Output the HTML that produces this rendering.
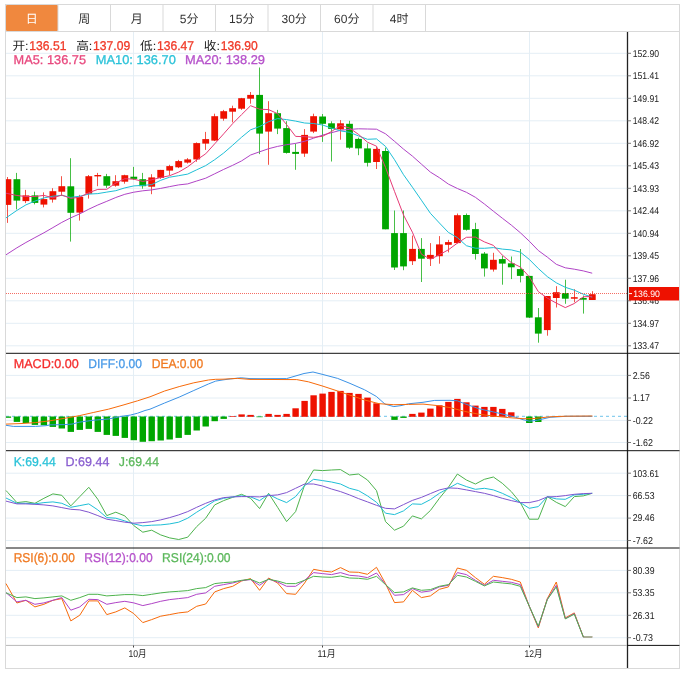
<!DOCTYPE html>
<html lang="zh"><head><meta charset="utf-8"><title>K线图</title>
<style>html,body{margin:0;padding:0;background:#fff}svg{display:block;text-rendering:geometricPrecision}</style></head>
<body>
<svg width="685" height="677" viewBox="0 0 685 677" font-family="'Liberation Sans','Noto Sans CJK SC',sans-serif">
<rect x="0" y="0" width="685" height="677" fill="#fff"/>
<rect x="5.5" y="4.5" width="674" height="664" fill="none" stroke="#d9d9d9" stroke-width="1"/>
<line x1="5.5" y1="31.5" x2="680" y2="31.5" stroke="#d9d9d9"/>
<rect x="6" y="5" width="52" height="26" rx="1" fill="#f0883e"/>
<line x1="58.0" y1="5" x2="58.0" y2="31" stroke="#d9d9d9"/>
<text x="31.8" y="23" font-size="12" fill="#fff" text-anchor="middle">日</text>
<line x1="110.5" y1="5" x2="110.5" y2="31" stroke="#d9d9d9"/>
<text x="84.2" y="23" font-size="12" fill="#333" text-anchor="middle">周</text>
<line x1="163.0" y1="5" x2="163.0" y2="31" stroke="#d9d9d9"/>
<text x="136.8" y="23" font-size="12" fill="#333" text-anchor="middle">月</text>
<line x1="215.5" y1="5" x2="215.5" y2="31" stroke="#d9d9d9"/>
<text x="189.2" y="23" font-size="12" fill="#333" text-anchor="middle">5分</text>
<line x1="268.0" y1="5" x2="268.0" y2="31" stroke="#d9d9d9"/>
<text x="241.8" y="23" font-size="12" fill="#333" text-anchor="middle">15分</text>
<line x1="320.5" y1="5" x2="320.5" y2="31" stroke="#d9d9d9"/>
<text x="294.2" y="23" font-size="12" fill="#333" text-anchor="middle">30分</text>
<line x1="373.0" y1="5" x2="373.0" y2="31" stroke="#d9d9d9"/>
<text x="346.8" y="23" font-size="12" fill="#333" text-anchor="middle">60分</text>
<line x1="425.5" y1="5" x2="425.5" y2="31" stroke="#d9d9d9"/>
<text x="399.2" y="23" font-size="12" fill="#333" text-anchor="middle">4时</text>
<line x1="6" y1="53.3" x2="627" y2="53.3" stroke="#e4eef5" stroke-width="1"/>
<line x1="6" y1="75.8" x2="627" y2="75.8" stroke="#e4eef5" stroke-width="1"/>
<line x1="6" y1="98.3" x2="627" y2="98.3" stroke="#e4eef5" stroke-width="1"/>
<line x1="6" y1="120.8" x2="627" y2="120.8" stroke="#e4eef5" stroke-width="1"/>
<line x1="6" y1="143.3" x2="627" y2="143.3" stroke="#e4eef5" stroke-width="1"/>
<line x1="6" y1="165.8" x2="627" y2="165.8" stroke="#e4eef5" stroke-width="1"/>
<line x1="6" y1="188.3" x2="627" y2="188.3" stroke="#e4eef5" stroke-width="1"/>
<line x1="6" y1="210.8" x2="627" y2="210.8" stroke="#e4eef5" stroke-width="1"/>
<line x1="6" y1="233.3" x2="627" y2="233.3" stroke="#e4eef5" stroke-width="1"/>
<line x1="6" y1="255.8" x2="627" y2="255.8" stroke="#e4eef5" stroke-width="1"/>
<line x1="6" y1="278.3" x2="627" y2="278.3" stroke="#e4eef5" stroke-width="1"/>
<line x1="6" y1="300.8" x2="627" y2="300.8" stroke="#e4eef5" stroke-width="1"/>
<line x1="6" y1="323.3" x2="627" y2="323.3" stroke="#e4eef5" stroke-width="1"/>
<line x1="6" y1="345.8" x2="627" y2="345.8" stroke="#e4eef5" stroke-width="1"/>
<line x1="6" y1="375.4" x2="627" y2="375.4" stroke="#e4eef5" stroke-width="1"/>
<line x1="6" y1="398.0" x2="627" y2="398.0" stroke="#e4eef5" stroke-width="1"/>
<line x1="6" y1="420.4" x2="627" y2="420.4" stroke="#e4eef5" stroke-width="1"/>
<line x1="6" y1="442.5" x2="627" y2="442.5" stroke="#e4eef5" stroke-width="1"/>
<line x1="6" y1="473.2" x2="627" y2="473.2" stroke="#e4eef5" stroke-width="1"/>
<line x1="6" y1="495.6" x2="627" y2="495.6" stroke="#e4eef5" stroke-width="1"/>
<line x1="6" y1="518.1" x2="627" y2="518.1" stroke="#e4eef5" stroke-width="1"/>
<line x1="6" y1="540.5" x2="627" y2="540.5" stroke="#e4eef5" stroke-width="1"/>
<line x1="6" y1="570.4" x2="627" y2="570.4" stroke="#e4eef5" stroke-width="1"/>
<line x1="6" y1="592.8" x2="627" y2="592.8" stroke="#e4eef5" stroke-width="1"/>
<line x1="6" y1="615.3" x2="627" y2="615.3" stroke="#e4eef5" stroke-width="1"/>
<line x1="6" y1="637.7" x2="627" y2="637.7" stroke="#e4eef5" stroke-width="1"/>
<line x1="133.5" y1="32" x2="133.5" y2="645" stroke="#e4eef5" stroke-width="1"/>
<line x1="322.5" y1="32" x2="322.5" y2="645" stroke="#e4eef5" stroke-width="1"/>
<line x1="529.5" y1="32" x2="529.5" y2="645" stroke="#e4eef5" stroke-width="1"/>
<text x="12.4" y="50.2" font-size="12" fill="#222" textLength="16.2" lengthAdjust="spacingAndGlyphs" text-anchor="start">开:</text>
<text x="29.3" y="50.4" font-size="12.8" fill="#f03a28" stroke="#f03a28" stroke-width="0.3" textLength="37.1" lengthAdjust="spacingAndGlyphs" text-anchor="start">136.51</text>
<text x="76.2" y="50.2" font-size="12" fill="#222" textLength="16.2" lengthAdjust="spacingAndGlyphs" text-anchor="start">高:</text>
<text x="93.1" y="50.4" font-size="12.8" fill="#f03a28" stroke="#f03a28" stroke-width="0.3" textLength="37.1" lengthAdjust="spacingAndGlyphs" text-anchor="start">137.09</text>
<text x="140.0" y="50.2" font-size="12" fill="#222" textLength="16.2" lengthAdjust="spacingAndGlyphs" text-anchor="start">低:</text>
<text x="156.9" y="50.4" font-size="12.8" fill="#f03a28" stroke="#f03a28" stroke-width="0.3" textLength="37.1" lengthAdjust="spacingAndGlyphs" text-anchor="start">136.47</text>
<text x="203.8" y="50.2" font-size="12" fill="#222" textLength="16.2" lengthAdjust="spacingAndGlyphs" text-anchor="start">收:</text>
<text x="220.7" y="50.4" font-size="12.8" fill="#f03a28" stroke="#f03a28" stroke-width="0.3" textLength="37.1" lengthAdjust="spacingAndGlyphs" text-anchor="start">136.90</text>
<text x="13.6" y="64.3" font-size="12.8" fill="#e8487e" stroke="#e8487e" stroke-width="0.3" textLength="72.4" lengthAdjust="spacingAndGlyphs" text-anchor="start">MA5: 136.75</text>
<text x="95.8" y="64.3" font-size="12.8" fill="#2cc3d9" stroke="#2cc3d9" stroke-width="0.3" textLength="80.0" lengthAdjust="spacingAndGlyphs" text-anchor="start">MA10: 136.70</text>
<text x="185.0" y="64.3" font-size="12.8" fill="#b653cb" stroke="#b653cb" stroke-width="0.3" textLength="80.0" lengthAdjust="spacingAndGlyphs" text-anchor="start">MA20: 138.29</text>
<line x1="7.5" y1="177.0" x2="7.5" y2="222.9" stroke="#ee1100" stroke-width="1" stroke-opacity="0.72"/>
<rect x="6.0" y="179.2" width="5.3" height="25.7" fill="#ee1100"/>
<line x1="16.5" y1="172.9" x2="16.5" y2="209.4" stroke="#00a600" stroke-width="1" stroke-opacity="0.72"/>
<rect x="13.5" y="179.2" width="6.8" height="21.4" fill="#00a600"/>
<line x1="25.5" y1="189.9" x2="25.5" y2="203.1" stroke="#ee1100" stroke-width="1" stroke-opacity="0.72"/>
<rect x="22.5" y="195.4" width="6.8" height="5.7" fill="#ee1100"/>
<line x1="34.5" y1="191.7" x2="34.5" y2="204.4" stroke="#00a600" stroke-width="1" stroke-opacity="0.72"/>
<rect x="31.5" y="195.4" width="6.8" height="7.5" fill="#00a600"/>
<line x1="43.5" y1="192.4" x2="43.5" y2="207.4" stroke="#ee1100" stroke-width="1" stroke-opacity="0.72"/>
<rect x="40.5" y="199.1" width="6.8" height="5.5" fill="#ee1100"/>
<line x1="52.5" y1="188.2" x2="52.5" y2="202.6" stroke="#ee1100" stroke-width="1" stroke-opacity="0.72"/>
<rect x="49.5" y="191.2" width="6.8" height="8.4" fill="#ee1100"/>
<line x1="61.5" y1="176.2" x2="61.5" y2="196.0" stroke="#ee1100" stroke-width="1" stroke-opacity="0.72"/>
<rect x="58.4" y="186.2" width="6.8" height="5.5" fill="#ee1100"/>
<line x1="70.5" y1="158.2" x2="70.5" y2="241.6" stroke="#00a600" stroke-width="1" stroke-opacity="0.72"/>
<rect x="67.4" y="186.3" width="6.8" height="26.5" fill="#00a600"/>
<line x1="79.5" y1="194.9" x2="79.5" y2="220.6" stroke="#ee1100" stroke-width="1" stroke-opacity="0.72"/>
<rect x="76.4" y="196.9" width="6.8" height="15.7" fill="#ee1100"/>
<line x1="88.5" y1="175.0" x2="88.5" y2="198.6" stroke="#ee1100" stroke-width="1" stroke-opacity="0.72"/>
<rect x="85.4" y="176.2" width="6.8" height="17.5" fill="#ee1100"/>
<line x1="97.5" y1="172.9" x2="97.5" y2="186.2" stroke="#ee1100" stroke-width="1" stroke-opacity="0.72"/>
<rect x="94.4" y="175.0" width="6.8" height="1.4" fill="#ee1100"/>
<line x1="106.5" y1="173.9" x2="106.5" y2="187.9" stroke="#00a600" stroke-width="1" stroke-opacity="0.72"/>
<rect x="103.4" y="176.2" width="6.8" height="9.5" fill="#00a600"/>
<line x1="115.5" y1="175.2" x2="115.5" y2="186.7" stroke="#ee1100" stroke-width="1" stroke-opacity="0.72"/>
<rect x="112.4" y="181.2" width="6.8" height="4.5" fill="#ee1100"/>
<line x1="124.5" y1="174.7" x2="124.5" y2="183.7" stroke="#ee1100" stroke-width="1" stroke-opacity="0.72"/>
<rect x="121.4" y="175.2" width="6.8" height="6.5" fill="#ee1100"/>
<line x1="133.5" y1="166.9" x2="133.5" y2="179.9" stroke="#00a600" stroke-width="1" stroke-opacity="0.72"/>
<rect x="130.4" y="176.7" width="6.8" height="2.2" fill="#00a600"/>
<line x1="142.5" y1="172.9" x2="142.5" y2="188.7" stroke="#00a600" stroke-width="1" stroke-opacity="0.72"/>
<rect x="139.3" y="179.2" width="6.8" height="7.0" fill="#00a600"/>
<line x1="151.5" y1="174.2" x2="151.5" y2="194.2" stroke="#ee1100" stroke-width="1" stroke-opacity="0.72"/>
<rect x="148.3" y="177.4" width="6.8" height="9.3" fill="#ee1100"/>
<line x1="160.5" y1="169.9" x2="160.5" y2="178.9" stroke="#ee1100" stroke-width="1" stroke-opacity="0.72"/>
<rect x="157.3" y="169.9" width="6.8" height="8.0" fill="#ee1100"/>
<line x1="169.5" y1="164.8" x2="169.5" y2="175.3" stroke="#ee1100" stroke-width="1" stroke-opacity="0.72"/>
<rect x="166.3" y="166.1" width="6.8" height="4.5" fill="#ee1100"/>
<line x1="178.5" y1="159.9" x2="178.5" y2="168.1" stroke="#ee1100" stroke-width="1" stroke-opacity="0.72"/>
<rect x="175.3" y="161.1" width="6.8" height="6.2" fill="#ee1100"/>
<line x1="187.5" y1="158.1" x2="187.5" y2="163.6" stroke="#ee1100" stroke-width="1" stroke-opacity="0.72"/>
<rect x="184.3" y="159.4" width="6.8" height="3.2" fill="#ee1100"/>
<line x1="196.5" y1="142.4" x2="196.5" y2="161.8" stroke="#ee1100" stroke-width="1" stroke-opacity="0.72"/>
<rect x="193.3" y="143.1" width="6.8" height="16.3" fill="#ee1100"/>
<line x1="205.5" y1="131.9" x2="205.5" y2="149.9" stroke="#ee1100" stroke-width="1" stroke-opacity="0.72"/>
<rect x="202.3" y="139.1" width="6.8" height="4.5" fill="#ee1100"/>
<line x1="214.5" y1="113.7" x2="214.5" y2="141.1" stroke="#ee1100" stroke-width="1" stroke-opacity="0.72"/>
<rect x="211.3" y="116.2" width="6.8" height="24.4" fill="#ee1100"/>
<line x1="223.5" y1="109.9" x2="223.5" y2="120.7" stroke="#ee1100" stroke-width="1" stroke-opacity="0.72"/>
<rect x="220.3" y="111.2" width="6.8" height="7.5" fill="#ee1100"/>
<line x1="232.5" y1="105.7" x2="232.5" y2="122.4" stroke="#ee1100" stroke-width="1" stroke-opacity="0.72"/>
<rect x="229.2" y="108.2" width="6.8" height="3.5" fill="#ee1100"/>
<line x1="241.5" y1="97.9" x2="241.5" y2="109.9" stroke="#ee1100" stroke-width="1" stroke-opacity="0.72"/>
<rect x="238.2" y="98.2" width="6.8" height="10.5" fill="#ee1100"/>
<line x1="250.5" y1="92.0" x2="250.5" y2="103.7" stroke="#ee1100" stroke-width="1" stroke-opacity="0.72"/>
<rect x="247.2" y="94.9" width="6.8" height="3.8" fill="#ee1100"/>
<line x1="259.5" y1="67.5" x2="259.5" y2="154.1" stroke="#00a600" stroke-width="1" stroke-opacity="0.72"/>
<rect x="256.2" y="94.9" width="6.8" height="38.7" fill="#00a600"/>
<line x1="268.5" y1="101.2" x2="268.5" y2="164.8" stroke="#ee1100" stroke-width="1" stroke-opacity="0.72"/>
<rect x="265.2" y="113.2" width="6.8" height="18.4" fill="#ee1100"/>
<line x1="277.5" y1="109.9" x2="277.5" y2="134.1" stroke="#00a600" stroke-width="1" stroke-opacity="0.72"/>
<rect x="274.2" y="113.2" width="6.8" height="15.4" fill="#00a600"/>
<line x1="286.5" y1="121.2" x2="286.5" y2="153.6" stroke="#00a600" stroke-width="1" stroke-opacity="0.72"/>
<rect x="283.2" y="128.1" width="6.8" height="24.8" fill="#00a600"/>
<line x1="295.5" y1="143.6" x2="295.5" y2="169.8" stroke="#00a600" stroke-width="1" stroke-opacity="0.72"/>
<rect x="292.2" y="151.9" width="6.8" height="2.0" fill="#00a600"/>
<line x1="304.5" y1="129.1" x2="304.5" y2="156.9" stroke="#ee1100" stroke-width="1" stroke-opacity="0.72"/>
<rect x="301.2" y="134.9" width="6.8" height="18.7" fill="#ee1100"/>
<line x1="313.5" y1="113.7" x2="313.5" y2="133.1" stroke="#ee1100" stroke-width="1" stroke-opacity="0.72"/>
<rect x="310.2" y="116.2" width="6.8" height="15.4" fill="#ee1100"/>
<line x1="322.5" y1="114.0" x2="322.5" y2="141.9" stroke="#00a600" stroke-width="1" stroke-opacity="0.72"/>
<rect x="319.2" y="116.5" width="6.8" height="7.3" fill="#00a600"/>
<line x1="331.5" y1="121.3" x2="331.5" y2="161.5" stroke="#00a600" stroke-width="1" stroke-opacity="0.72"/>
<rect x="328.1" y="123.3" width="6.8" height="5.6" fill="#00a600"/>
<line x1="340.5" y1="120.1" x2="340.5" y2="139.7" stroke="#ee1100" stroke-width="1" stroke-opacity="0.72"/>
<rect x="337.1" y="123.3" width="6.8" height="6.1" fill="#ee1100"/>
<line x1="349.5" y1="120.8" x2="349.5" y2="148.9" stroke="#00a600" stroke-width="1" stroke-opacity="0.72"/>
<rect x="346.1" y="123.8" width="6.8" height="23.9" fill="#00a600"/>
<line x1="358.5" y1="137.6" x2="358.5" y2="155.2" stroke="#00a600" stroke-width="1" stroke-opacity="0.72"/>
<rect x="355.1" y="138.9" width="6.8" height="9.5" fill="#00a600"/>
<line x1="367.5" y1="143.4" x2="367.5" y2="166.5" stroke="#00a600" stroke-width="1" stroke-opacity="0.72"/>
<rect x="364.1" y="148.4" width="6.8" height="14.4" fill="#00a600"/>
<line x1="376.5" y1="146.4" x2="376.5" y2="169.0" stroke="#ee1100" stroke-width="1" stroke-opacity="0.72"/>
<rect x="373.1" y="148.9" width="6.8" height="13.1" fill="#ee1100"/>
<line x1="385.5" y1="147.7" x2="385.5" y2="229.3" stroke="#00a600" stroke-width="1" stroke-opacity="0.72"/>
<rect x="382.1" y="151.0" width="6.8" height="78.3" fill="#00a600"/>
<line x1="394.5" y1="210.5" x2="394.5" y2="270.0" stroke="#00a600" stroke-width="1" stroke-opacity="0.72"/>
<rect x="391.1" y="233.1" width="6.8" height="34.4" fill="#00a600"/>
<line x1="403.5" y1="210.5" x2="403.5" y2="270.2" stroke="#00a600" stroke-width="1" stroke-opacity="0.72"/>
<rect x="400.1" y="233.1" width="6.8" height="33.3" fill="#00a600"/>
<line x1="412.5" y1="235.6" x2="412.5" y2="265.0" stroke="#ee1100" stroke-width="1" stroke-opacity="0.72"/>
<rect x="409.1" y="248.9" width="6.8" height="12.3" fill="#ee1100"/>
<line x1="421.5" y1="238.1" x2="421.5" y2="282.0" stroke="#00a600" stroke-width="1" stroke-opacity="0.72"/>
<rect x="418.0" y="248.9" width="6.8" height="9.8" fill="#00a600"/>
<line x1="430.5" y1="243.1" x2="430.5" y2="266.0" stroke="#ee1100" stroke-width="1" stroke-opacity="0.72"/>
<rect x="427.0" y="254.9" width="6.8" height="3.9" fill="#ee1100"/>
<line x1="439.5" y1="236.1" x2="439.5" y2="263.7" stroke="#ee1100" stroke-width="1" stroke-opacity="0.72"/>
<rect x="436.0" y="244.4" width="6.8" height="11.8" fill="#ee1100"/>
<line x1="448.5" y1="239.9" x2="448.5" y2="252.4" stroke="#ee1100" stroke-width="1" stroke-opacity="0.72"/>
<rect x="445.0" y="242.1" width="6.8" height="2.7" fill="#ee1100"/>
<line x1="457.5" y1="213.5" x2="457.5" y2="243.5" stroke="#ee1100" stroke-width="1" stroke-opacity="0.72"/>
<rect x="454.0" y="215.2" width="6.8" height="27.9" fill="#ee1100"/>
<line x1="466.5" y1="213.5" x2="466.5" y2="230.6" stroke="#00a600" stroke-width="1" stroke-opacity="0.72"/>
<rect x="463.0" y="215.0" width="6.8" height="14.8" fill="#00a600"/>
<line x1="475.5" y1="222.8" x2="475.5" y2="259.6" stroke="#00a600" stroke-width="1" stroke-opacity="0.72"/>
<rect x="472.0" y="229.1" width="6.8" height="24.9" fill="#00a600"/>
<line x1="484.5" y1="252.0" x2="484.5" y2="276.6" stroke="#00a600" stroke-width="1" stroke-opacity="0.72"/>
<rect x="481.0" y="253.6" width="6.8" height="14.8" fill="#00a600"/>
<line x1="493.5" y1="252.8" x2="493.5" y2="271.6" stroke="#ee1100" stroke-width="1" stroke-opacity="0.72"/>
<rect x="490.0" y="259.8" width="6.8" height="9.8" fill="#ee1100"/>
<line x1="502.5" y1="255.8" x2="502.5" y2="284.7" stroke="#00a600" stroke-width="1" stroke-opacity="0.72"/>
<rect x="498.9" y="259.1" width="6.8" height="4.5" fill="#00a600"/>
<line x1="511.5" y1="256.5" x2="511.5" y2="279.1" stroke="#00a600" stroke-width="1" stroke-opacity="0.72"/>
<rect x="507.9" y="263.3" width="6.8" height="4.0" fill="#00a600"/>
<line x1="520.5" y1="249.0" x2="520.5" y2="282.4" stroke="#00a600" stroke-width="1" stroke-opacity="0.72"/>
<rect x="516.9" y="269.1" width="6.8" height="6.8" fill="#00a600"/>
<line x1="529.5" y1="275.9" x2="529.5" y2="318.0" stroke="#00a600" stroke-width="1" stroke-opacity="0.72"/>
<rect x="525.9" y="275.9" width="6.8" height="41.7" fill="#00a600"/>
<line x1="538.5" y1="308.0" x2="538.5" y2="342.7" stroke="#00a600" stroke-width="1" stroke-opacity="0.72"/>
<rect x="534.9" y="317.3" width="6.8" height="16.3" fill="#00a600"/>
<line x1="547.5" y1="296.0" x2="547.5" y2="335.7" stroke="#ee1100" stroke-width="1" stroke-opacity="0.72"/>
<rect x="543.9" y="296.0" width="6.8" height="34.1" fill="#ee1100"/>
<line x1="556.5" y1="286.2" x2="556.5" y2="307.5" stroke="#ee1100" stroke-width="1" stroke-opacity="0.72"/>
<rect x="552.9" y="292.2" width="6.8" height="5.8" fill="#ee1100"/>
<line x1="565.5" y1="279.7" x2="565.5" y2="303.8" stroke="#00a600" stroke-width="1" stroke-opacity="0.72"/>
<rect x="561.9" y="293.0" width="6.8" height="5.7" fill="#00a600"/>
<line x1="574.5" y1="289.2" x2="574.5" y2="302.3" stroke="#ee1100" stroke-width="1" stroke-opacity="0.72"/>
<rect x="570.9" y="297.2" width="6.8" height="1.5" fill="#ee1100"/>
<line x1="583.5" y1="295.5" x2="583.5" y2="313.6" stroke="#00a600" stroke-width="1" stroke-opacity="0.72"/>
<rect x="579.9" y="298.0" width="6.8" height="1.7" fill="#00a600"/>
<line x1="592.5" y1="291.2" x2="592.5" y2="300.0" stroke="#ee1100" stroke-width="1" stroke-opacity="0.72"/>
<rect x="588.9" y="294.2" width="6.8" height="5.8" fill="#ee1100"/>
<polyline points="6.0,254.8 7.9,253.6 16.9,247.8 25.9,242.5 34.9,237.6 43.9,232.8 52.9,227.6 61.8,222.4 70.8,217.8 79.8,213.8 88.8,209.2 97.8,205.0 106.8,201.3 115.8,197.5 124.8,194.3 133.8,192.2 142.8,190.8 151.7,189.9 160.7,188.4 169.7,186.6 178.7,184.9 187.7,183.9 196.7,181.0 205.7,178.2 214.7,173.8 223.7,169.4 232.7,165.3 241.6,160.9 250.6,155.0 259.6,151.8 268.6,148.7 277.6,146.4 286.6,144.7 295.6,143.4 304.6,141.3 313.6,138.2 322.6,135.1 331.5,132.7 340.5,130.3 349.5,129.4 358.5,128.8 367.5,129.0 376.5,129.2 385.5,133.8 394.5,141.3 403.5,149.1 412.4,156.1 421.4,164.1 430.4,172.1 439.4,177.7 448.4,184.1 457.4,188.5 466.4,192.3 475.4,197.3 484.4,204.0 493.4,211.2 502.3,218.2 511.3,225.1 520.3,232.7 529.3,241.2 538.3,250.5 547.3,257.1 556.3,264.3 565.3,267.8 574.3,269.2 583.3,270.9 592.2,273.2" fill="none" stroke="#b044c6" stroke-width="1" stroke-linejoin="round"/>
<polyline points="6.0,217.9 7.9,216.6 16.9,210.4 25.9,204.9 34.9,201.1 43.9,197.9 52.9,196.2 61.8,195.4 70.8,197.4 79.8,196.2 88.8,194.1 97.8,193.6 106.8,192.1 115.8,190.7 124.8,187.9 133.8,185.9 142.8,185.4 151.7,184.6 160.7,180.3 169.7,177.2 178.7,175.7 187.7,174.1 196.7,169.8 205.7,165.6 214.7,159.7 223.7,153.0 232.7,145.2 241.6,137.2 250.6,129.8 259.6,126.5 268.6,121.7 277.6,118.6 286.6,119.6 295.6,121.1 304.6,123.0 313.6,123.5 322.6,125.0 331.5,128.1 340.5,130.9 349.5,132.3 358.5,135.9 367.5,139.3 376.5,138.9 385.5,146.4 394.5,159.7 403.5,174.7 412.4,187.2 421.4,200.2 430.4,213.3 439.4,223.0 448.4,232.4 457.4,237.6 466.4,245.7 475.4,248.2 484.4,248.3 493.4,247.6 502.3,249.1 511.3,249.9 520.3,252.1 529.3,259.4 538.3,268.5 547.3,276.6 556.3,282.8 565.3,287.3 574.3,290.2 583.3,294.2 592.2,297.2" fill="none" stroke="#1fbfd6" stroke-width="1" stroke-linejoin="round"/>
<polyline points="6.0,193.2 7.9,193.6 16.9,195.5 25.9,196.5 34.9,196.5 43.9,195.4 52.9,197.8 61.8,195.0 70.8,198.4 79.8,197.2 88.8,192.7 97.8,189.4 106.8,189.3 115.8,183.0 124.8,178.7 133.8,179.2 142.8,181.4 151.7,179.8 160.7,177.5 169.7,175.7 178.7,172.1 187.7,166.8 196.7,159.9 205.7,153.8 214.7,143.8 223.7,133.8 232.7,123.6 241.6,114.6 250.6,105.7 259.6,109.2 268.6,109.6 277.6,113.7 286.6,124.6 295.6,136.4 304.6,136.7 313.6,137.3 322.6,136.3 331.5,131.5 340.5,125.4 349.5,128.0 358.5,134.4 367.5,142.2 376.5,146.2 385.5,167.4 394.5,191.4 403.5,215.0 412.4,232.2 421.4,254.2 430.4,259.3 439.4,254.7 448.4,249.8 457.4,243.1 466.4,237.3 475.4,237.1 484.4,241.9 493.4,245.4 502.3,255.1 511.3,262.6 520.3,267.0 529.3,276.8 538.3,291.6 547.3,298.1 556.3,303.1 565.3,307.6 574.3,303.5 583.3,296.8 592.2,296.4" fill="none" stroke="#e63a76" stroke-width="1" stroke-linejoin="round"/>
<line x1="6" y1="293.5" x2="627" y2="293.5" stroke="#f2493c" stroke-opacity="0.8" stroke-width="1" stroke-dasharray="1,1"/>
<line x1="6" y1="416.3" x2="627" y2="416.3" stroke="#6fc3ea" stroke-width="1" stroke-dasharray="3,3"/>
<rect x="6.0" y="416.5" width="5.1" height="1.3" fill="#00a600"/>
<rect x="13.7" y="416.5" width="6.4" height="5.4" fill="#00a600"/>
<rect x="22.7" y="416.5" width="6.4" height="6.5" fill="#00a600"/>
<rect x="31.7" y="416.5" width="6.4" height="8.4" fill="#00a600"/>
<rect x="40.7" y="416.5" width="6.4" height="8.7" fill="#00a600"/>
<rect x="49.6" y="416.5" width="6.4" height="10.4" fill="#00a600"/>
<rect x="58.6" y="416.5" width="6.4" height="12.0" fill="#00a600"/>
<rect x="67.6" y="416.5" width="6.4" height="15.4" fill="#00a600"/>
<rect x="76.6" y="416.5" width="6.4" height="13.4" fill="#00a600"/>
<rect x="85.6" y="416.5" width="6.4" height="12.4" fill="#00a600"/>
<rect x="94.6" y="416.5" width="6.4" height="15.4" fill="#00a600"/>
<rect x="103.6" y="416.5" width="6.4" height="18.4" fill="#00a600"/>
<rect x="112.6" y="416.5" width="6.4" height="19.4" fill="#00a600"/>
<rect x="121.6" y="416.5" width="6.4" height="21.4" fill="#00a600"/>
<rect x="130.6" y="416.5" width="6.4" height="23.7" fill="#00a600"/>
<rect x="139.6" y="416.5" width="6.4" height="25.3" fill="#00a600"/>
<rect x="148.5" y="416.5" width="6.4" height="24.7" fill="#00a600"/>
<rect x="157.5" y="416.5" width="6.4" height="24.0" fill="#00a600"/>
<rect x="166.5" y="416.5" width="6.4" height="23.0" fill="#00a600"/>
<rect x="175.5" y="416.5" width="6.4" height="21.4" fill="#00a600"/>
<rect x="184.5" y="416.5" width="6.4" height="18.4" fill="#00a600"/>
<rect x="193.5" y="416.5" width="6.4" height="14.0" fill="#00a600"/>
<rect x="202.5" y="416.5" width="6.4" height="10.0" fill="#00a600"/>
<rect x="211.5" y="416.5" width="6.4" height="4.7" fill="#00a600"/>
<rect x="220.5" y="416.5" width="6.4" height="2.4" fill="#00a600"/>
<rect x="229.5" y="416.1" width="6.4" height="0.7" fill="#ee1100"/>
<rect x="238.4" y="414.4" width="6.4" height="2.4" fill="#ee1100"/>
<rect x="247.4" y="414.9" width="6.4" height="1.9" fill="#ee1100"/>
<rect x="256.4" y="416.5" width="6.4" height="0.7" fill="#00a600"/>
<rect x="265.4" y="413.9" width="6.4" height="2.9" fill="#ee1100"/>
<rect x="274.4" y="414.9" width="6.4" height="1.9" fill="#ee1100"/>
<rect x="283.4" y="413.9" width="6.4" height="2.9" fill="#ee1100"/>
<rect x="292.4" y="408.3" width="6.4" height="8.5" fill="#ee1100"/>
<rect x="301.4" y="400.9" width="6.4" height="15.9" fill="#ee1100"/>
<rect x="310.4" y="395.3" width="6.4" height="21.5" fill="#ee1100"/>
<rect x="319.4" y="393.6" width="6.4" height="23.2" fill="#ee1100"/>
<rect x="328.3" y="391.9" width="6.4" height="24.9" fill="#ee1100"/>
<rect x="337.3" y="390.9" width="6.4" height="25.9" fill="#ee1100"/>
<rect x="346.3" y="392.9" width="6.4" height="23.9" fill="#ee1100"/>
<rect x="355.3" y="393.9" width="6.4" height="22.9" fill="#ee1100"/>
<rect x="364.3" y="397.6" width="6.4" height="19.2" fill="#ee1100"/>
<rect x="373.3" y="403.3" width="6.4" height="13.5" fill="#ee1100"/>
<rect x="391.3" y="416.5" width="6.4" height="3.4" fill="#00a600"/>
<rect x="400.3" y="416.5" width="6.4" height="1.4" fill="#00a600"/>
<rect x="409.2" y="413.9" width="6.4" height="2.9" fill="#ee1100"/>
<rect x="418.2" y="412.6" width="6.4" height="4.2" fill="#ee1100"/>
<rect x="427.2" y="408.6" width="6.4" height="8.2" fill="#ee1100"/>
<rect x="436.2" y="405.3" width="6.4" height="11.5" fill="#ee1100"/>
<rect x="445.2" y="401.9" width="6.4" height="14.9" fill="#ee1100"/>
<rect x="454.2" y="398.9" width="6.4" height="17.9" fill="#ee1100"/>
<rect x="463.2" y="402.3" width="6.4" height="14.5" fill="#ee1100"/>
<rect x="472.2" y="405.6" width="6.4" height="11.2" fill="#ee1100"/>
<rect x="481.2" y="406.9" width="6.4" height="9.9" fill="#ee1100"/>
<rect x="490.2" y="406.9" width="6.4" height="9.9" fill="#ee1100"/>
<rect x="499.1" y="408.9" width="6.4" height="7.9" fill="#ee1100"/>
<rect x="508.1" y="412.3" width="6.4" height="4.5" fill="#ee1100"/>
<rect x="526.1" y="416.5" width="6.4" height="6.5" fill="#00a600"/>
<rect x="535.1" y="416.5" width="6.4" height="5.5" fill="#00a600"/>
<polyline points="6.0,425.3 13.3,426.4 35.5,426.4 46.0,425.7 50.0,424.9 64.6,424.6 72.0,424.1 79.2,422.2 93.8,420.2 108.4,419.0 115.7,417.6 123.0,416.1 130.3,415.1 137.6,413.2 145.0,410.5 150.0,409.2 164.6,403.0 179.2,397.1 193.8,390.5 208.4,384.0 215.7,381.1 223.0,379.9 230.3,378.9 241.2,377.8 250.0,378.6 260.0,378.7 286.6,378.6 304.0,373.5 313.0,372.0 323.0,374.5 337.6,378.4 350.0,383.4 364.6,389.8 376.3,396.4 385.0,404.1 393.8,406.6 401.0,405.6 408.4,403.8 423.0,402.3 434.7,400.4 450.0,400.3 457.3,400.8 464.6,403.7 479.2,408.8 493.8,412.0 508.4,415.4 515.7,417.3 523.0,419.7 529.5,421.2 537.6,420.2 550.0,417.3 566.0,416.3 592.4,416.3" fill="none" stroke="#3b92e6" stroke-width="1" stroke-linejoin="round"/>
<polyline points="6.0,424.1 22.0,423.5 35.5,422.6 46.0,421.3 50.0,420.8 64.6,418.3 79.2,415.7 93.8,412.4 108.4,409.2 123.0,405.1 137.6,400.8 150.0,396.8 164.6,391.0 179.2,386.6 193.8,382.8 208.4,380.0 215.7,379.3 223.0,379.2 237.6,378.4 250.0,379.4 296.7,379.6 308.4,381.8 323.0,386.2 337.6,391.0 350.0,395.2 364.6,400.0 379.2,403.7 393.8,404.7 408.4,404.4 423.0,404.1 437.6,405.6 450.0,407.6 464.6,411.4 479.2,414.3 493.8,416.1 508.4,417.6 523.0,418.7 531.8,418.7 540.5,417.8 550.0,416.8 566.0,416.2 592.4,416.0" fill="none" stroke="#f76a0a" stroke-width="1" stroke-linejoin="round"/>
<text x="13.7" y="367.6" font-size="12.8" fill="#f52d2d" stroke="#f52d2d" stroke-width="0.3" textLength="65.2" lengthAdjust="spacingAndGlyphs" text-anchor="start">MACD:0.00</text>
<text x="88.3" y="367.6" font-size="12.8" fill="#4a9be8" stroke="#4a9be8" stroke-width="0.3" textLength="53.6" lengthAdjust="spacingAndGlyphs" text-anchor="start">DIFF:0.00</text>
<text x="151.7" y="367.6" font-size="12.8" fill="#f07a22" stroke="#f07a22" stroke-width="0.3" textLength="51.6" lengthAdjust="spacingAndGlyphs" text-anchor="start">DEA:0.00</text>
<polyline points="6.0,490.5 7.9,492.6 16.9,502.6 25.9,501.6 34.9,503.3 43.9,498.3 52.9,493.9 61.8,495.3 70.8,505.9 79.8,496.6 88.8,487.3 97.8,499.3 106.8,515.6 115.8,512.2 124.8,515.9 133.8,525.6 142.8,532.2 151.7,530.2 160.7,534.9 169.7,537.9 178.7,539.5 187.7,537.2 196.7,526.6 205.7,518.2 214.7,504.9 223.7,500.6 232.7,497.3 241.6,494.3 250.6,498.3 259.6,508.6 268.6,493.3 277.6,507.3 286.6,521.6 295.6,511.6 304.6,485.0 313.6,470.0 322.6,470.6 331.5,470.0 340.5,469.6 349.5,475.0 358.5,474.0 367.5,480.0 376.5,490.6 385.5,521.6 394.5,530.2 403.5,526.2 412.4,515.9 421.4,518.9 430.4,510.5 439.4,498.3 448.4,487.3 457.4,474.0 466.4,480.0 475.4,484.0 484.4,479.3 493.4,477.0 502.3,483.3 511.3,491.6 520.3,502.6 529.3,519.2 538.3,519.2 547.3,496.6 556.3,502.3 565.3,506.6 574.3,496.6 583.3,495.9 592.2,493.3" fill="none" stroke="#4db34d" stroke-width="1" stroke-linejoin="round"/>
<polyline points="6.0,498.0 7.9,498.9 16.9,503.3 25.9,503.3 34.9,503.9 43.9,502.6 52.9,501.9 61.8,503.3 70.8,507.3 79.8,505.6 88.8,503.9 97.8,509.9 106.8,517.6 115.8,518.2 124.8,520.9 133.8,523.9 142.8,525.9 151.7,525.2 160.7,524.9 169.7,523.9 178.7,522.2 187.7,518.2 196.7,512.2 205.7,506.6 214.7,500.9 223.7,498.3 232.7,496.9 241.6,495.9 250.6,496.9 259.6,500.6 268.6,494.3 277.6,498.9 286.6,502.6 295.6,496.6 304.6,485.6 313.6,479.3 322.6,480.6 331.5,482.0 340.5,484.0 349.5,488.3 358.5,490.6 367.5,495.9 376.5,502.3 385.5,513.2 394.5,514.6 403.5,510.9 412.4,503.9 421.4,504.3 430.4,499.6 439.4,493.3 448.4,488.3 457.4,483.3 466.4,486.6 475.4,489.3 484.4,488.3 493.4,489.9 502.3,493.3 511.3,497.6 520.3,502.6 529.3,508.3 538.3,506.6 547.3,496.6 556.3,498.9 565.3,499.3 574.3,494.9 583.3,494.3 592.2,493.3" fill="none" stroke="#1fbfd6" stroke-width="1" stroke-linejoin="round"/>
<polyline points="6.0,501.1 7.9,501.6 16.9,503.9 25.9,503.9 34.9,504.3 43.9,504.9 52.9,505.9 61.8,507.6 70.8,509.3 79.8,509.9 88.8,512.2 97.8,515.6 106.8,519.2 115.8,520.6 124.8,522.2 133.8,523.2 142.8,522.6 151.7,521.6 160.7,519.9 169.7,517.6 178.7,514.9 187.7,511.6 196.7,507.3 205.7,503.3 214.7,499.9 223.7,497.6 232.7,496.9 241.6,496.6 250.6,496.6 259.6,496.9 268.6,495.6 277.6,494.9 286.6,492.6 295.6,488.3 304.6,484.0 313.6,484.0 322.6,486.0 331.5,489.0 340.5,491.6 349.5,494.9 358.5,498.6 367.5,501.9 376.5,505.3 385.5,508.3 394.5,508.9 403.5,504.6 412.4,500.4 421.4,497.4 430.4,493.6 439.4,489.9 448.4,487.9 457.4,488.3 466.4,489.9 475.4,491.6 484.4,493.3 493.4,495.6 502.3,498.3 511.3,500.6 520.3,502.6 529.3,502.6 538.3,500.6 547.3,496.9 556.3,496.6 565.3,495.6 574.3,494.3 583.3,493.6 592.2,493.3" fill="none" stroke="#8055cf" stroke-width="1" stroke-linejoin="round"/>
<text x="13.7" y="465.5" font-size="12.8" fill="#2cc3d9" stroke="#2cc3d9" stroke-width="0.3" textLength="42.0" lengthAdjust="spacingAndGlyphs" text-anchor="start">K:69.44</text>
<text x="65.6" y="465.5" font-size="12.8" fill="#8a5fd0" stroke="#8a5fd0" stroke-width="0.3" textLength="43.8" lengthAdjust="spacingAndGlyphs" text-anchor="start">D:69.44</text>
<text x="118.8" y="465.5" font-size="12.8" fill="#5cb85c" stroke="#5cb85c" stroke-width="0.3" textLength="40.2" lengthAdjust="spacingAndGlyphs" text-anchor="start">J:69.44</text>
<polyline points="6.0,583.6 7.9,587.0 16.9,603.0 25.9,600.3 34.9,606.9 43.9,604.3 52.9,600.3 61.8,598.6 70.8,620.9 79.8,615.2 88.8,600.9 97.8,600.9 106.8,614.6 115.8,611.9 124.8,607.9 133.8,613.6 142.8,622.6 151.7,619.6 160.7,616.2 169.7,614.6 178.7,612.9 187.7,611.9 196.7,606.3 205.7,604.0 214.7,591.9 223.7,588.6 232.7,586.3 241.6,581.0 250.6,578.6 259.6,590.3 268.6,578.0 277.6,583.0 286.6,593.6 295.6,594.3 304.6,583.0 313.6,569.3 322.6,571.0 331.5,572.0 340.5,567.6 349.5,572.0 358.5,572.3 367.5,574.3 376.5,567.3 385.5,583.6 394.5,602.6 403.5,601.9 412.4,590.3 421.4,597.6 430.4,595.9 439.4,589.3 448.4,586.9 457.4,568.0 466.4,570.3 475.4,577.6 484.4,584.3 493.4,576.3 502.3,577.6 511.3,579.3 520.3,582.0 529.3,606.3 538.3,627.9 547.3,598.6 556.3,582.0 565.3,617.9 574.3,612.9 583.3,636.9 592.2,636.9" fill="none" stroke="#f76a0a" stroke-width="1" stroke-linejoin="round"/>
<polyline points="6.0,592.7 7.9,594.3 16.9,601.9 25.9,600.3 34.9,604.3 43.9,602.9 52.9,600.3 61.8,597.6 70.8,610.2 79.8,606.9 88.8,599.3 97.8,599.6 106.8,604.3 115.8,602.6 124.8,601.3 133.8,602.9 142.8,605.6 151.7,603.6 160.7,601.3 169.7,599.6 178.7,598.6 187.7,597.6 196.7,594.3 205.7,592.9 214.7,586.3 223.7,584.6 232.7,583.0 241.6,580.6 250.6,579.6 259.6,585.3 268.6,579.0 277.6,582.0 286.6,586.3 295.6,586.3 304.6,580.3 313.6,572.6 322.6,573.6 331.5,574.6 340.5,572.6 349.5,575.3 358.5,576.0 367.5,577.6 376.5,573.0 385.5,584.3 394.5,595.3 403.5,594.6 412.4,588.6 421.4,592.2 430.4,590.9 439.4,586.9 448.4,585.3 457.4,572.6 466.4,574.6 475.4,580.3 484.4,585.3 493.4,580.3 502.3,581.3 511.3,582.3 520.3,584.6 529.3,606.3 538.3,626.9 547.3,599.3 556.3,585.3 565.3,618.6 574.3,613.6 583.3,636.9 592.2,636.9" fill="none" stroke="#b044c6" stroke-width="1" stroke-linejoin="round"/>
<polyline points="6.0,592.8 7.9,593.6 16.9,597.6 25.9,596.9 34.9,598.6 43.9,597.9 52.9,596.9 61.8,595.9 70.8,600.3 79.8,597.6 88.8,594.3 97.8,594.3 106.8,595.9 115.8,595.3 124.8,594.6 133.8,594.6 142.8,595.6 151.7,594.3 160.7,592.9 169.7,591.9 178.7,591.3 187.7,590.6 196.7,588.6 205.7,587.6 214.7,583.6 223.7,582.6 232.7,582.0 241.6,580.3 250.6,579.3 259.6,583.0 268.6,579.3 277.6,581.0 286.6,583.6 295.6,583.6 304.6,580.3 313.6,576.3 322.6,577.0 331.5,577.3 340.5,576.0 349.5,578.0 358.5,578.3 367.5,579.3 376.5,576.3 385.5,584.6 394.5,592.6 403.5,591.9 412.4,587.9 421.4,590.3 430.4,589.6 439.4,586.3 448.4,584.6 457.4,575.3 466.4,577.0 475.4,581.3 484.4,585.9 493.4,582.0 502.3,583.0 511.3,583.9 520.3,586.3 529.3,606.3 538.3,626.2 547.3,599.6 556.3,586.9 565.3,618.9 574.3,614.2 583.3,636.9 592.2,636.9" fill="none" stroke="#4db34d" stroke-width="1" stroke-linejoin="round"/>
<line x1="584.1" y1="636.9" x2="592.2" y2="636.9" stroke="#b4b6a2" stroke-width="1.5"/>
<text x="13.7" y="562.4" font-size="12.8" fill="#f07a22" stroke="#f07a22" stroke-width="0.3" textLength="61.2" lengthAdjust="spacingAndGlyphs" text-anchor="start">RSI(6):0.00</text>
<text x="84.3" y="562.4" font-size="12.8" fill="#b653cb" stroke="#b653cb" stroke-width="0.3" textLength="68.3" lengthAdjust="spacingAndGlyphs" text-anchor="start">RSI(12):0.00</text>
<text x="162.1" y="562.4" font-size="12.8" fill="#5cb85c" stroke="#5cb85c" stroke-width="0.3" textLength="68.5" lengthAdjust="spacingAndGlyphs" text-anchor="start">RSI(24):0.00</text>
<line x1="627.5" y1="32" x2="627.5" y2="668" stroke="#222" stroke-width="1.3"/>
<line x1="6" y1="353.3" x2="679.5" y2="353.3" stroke="#111" stroke-width="1"/>
<line x1="6" y1="450.7" x2="679.5" y2="450.7" stroke="#111" stroke-width="1"/>
<line x1="6" y1="548.0" x2="679.5" y2="548.0" stroke="#111" stroke-width="1"/>
<line x1="6" y1="645.4" x2="627" y2="645.4" stroke="#b8b8b8" stroke-width="1"/>
<line x1="627" y1="645.4" x2="679.5" y2="645.4" stroke="#111" stroke-width="1"/>
<line x1="627" y1="53.3" x2="631" y2="53.3" stroke="#555" stroke-width="0.8"/>
<text x="632.7" y="56.6" font-size="9.9" fill="#222" textLength="26.4" lengthAdjust="spacingAndGlyphs" text-anchor="start">152.90</text>
<line x1="627" y1="75.8" x2="631" y2="75.8" stroke="#555" stroke-width="0.8"/>
<text x="632.7" y="79.1" font-size="9.9" fill="#222" textLength="26.4" lengthAdjust="spacingAndGlyphs" text-anchor="start">151.41</text>
<line x1="627" y1="98.3" x2="631" y2="98.3" stroke="#555" stroke-width="0.8"/>
<text x="632.7" y="101.6" font-size="9.9" fill="#222" textLength="26.4" lengthAdjust="spacingAndGlyphs" text-anchor="start">149.91</text>
<line x1="627" y1="120.8" x2="631" y2="120.8" stroke="#555" stroke-width="0.8"/>
<text x="632.7" y="124.1" font-size="9.9" fill="#222" textLength="26.4" lengthAdjust="spacingAndGlyphs" text-anchor="start">148.42</text>
<line x1="627" y1="143.3" x2="631" y2="143.3" stroke="#555" stroke-width="0.8"/>
<text x="632.7" y="146.6" font-size="9.9" fill="#222" textLength="26.4" lengthAdjust="spacingAndGlyphs" text-anchor="start">146.92</text>
<line x1="627" y1="165.8" x2="631" y2="165.8" stroke="#555" stroke-width="0.8"/>
<text x="632.7" y="169.1" font-size="9.9" fill="#222" textLength="26.4" lengthAdjust="spacingAndGlyphs" text-anchor="start">145.43</text>
<line x1="627" y1="188.3" x2="631" y2="188.3" stroke="#555" stroke-width="0.8"/>
<text x="632.7" y="191.6" font-size="9.9" fill="#222" textLength="26.4" lengthAdjust="spacingAndGlyphs" text-anchor="start">143.93</text>
<line x1="627" y1="210.8" x2="631" y2="210.8" stroke="#555" stroke-width="0.8"/>
<text x="632.7" y="214.1" font-size="9.9" fill="#222" textLength="26.4" lengthAdjust="spacingAndGlyphs" text-anchor="start">142.44</text>
<line x1="627" y1="233.3" x2="631" y2="233.3" stroke="#555" stroke-width="0.8"/>
<text x="632.7" y="236.6" font-size="9.9" fill="#222" textLength="26.4" lengthAdjust="spacingAndGlyphs" text-anchor="start">140.94</text>
<line x1="627" y1="255.8" x2="631" y2="255.8" stroke="#555" stroke-width="0.8"/>
<text x="632.7" y="259.1" font-size="9.9" fill="#222" textLength="26.4" lengthAdjust="spacingAndGlyphs" text-anchor="start">139.45</text>
<line x1="627" y1="278.3" x2="631" y2="278.3" stroke="#555" stroke-width="0.8"/>
<text x="632.7" y="281.6" font-size="9.9" fill="#222" textLength="26.4" lengthAdjust="spacingAndGlyphs" text-anchor="start">137.96</text>
<line x1="627" y1="300.8" x2="631" y2="300.8" stroke="#555" stroke-width="0.8"/>
<text x="632.7" y="304.1" font-size="9.9" fill="#222" textLength="26.4" lengthAdjust="spacingAndGlyphs" text-anchor="start">136.46</text>
<line x1="627" y1="323.3" x2="631" y2="323.3" stroke="#555" stroke-width="0.8"/>
<text x="632.7" y="326.6" font-size="9.9" fill="#222" textLength="26.4" lengthAdjust="spacingAndGlyphs" text-anchor="start">134.97</text>
<line x1="627" y1="345.8" x2="631" y2="345.8" stroke="#555" stroke-width="0.8"/>
<text x="632.7" y="349.1" font-size="9.9" fill="#222" textLength="26.4" lengthAdjust="spacingAndGlyphs" text-anchor="start">133.47</text>
<line x1="627" y1="375.4" x2="631" y2="375.4" stroke="#555" stroke-width="0.8"/>
<text x="632.7" y="378.7" font-size="9.9" fill="#222" textLength="17.2" lengthAdjust="spacingAndGlyphs" text-anchor="start">2.56</text>
<line x1="627" y1="398.0" x2="631" y2="398.0" stroke="#555" stroke-width="0.8"/>
<text x="632.7" y="401.3" font-size="9.9" fill="#222" textLength="17.2" lengthAdjust="spacingAndGlyphs" text-anchor="start">1.17</text>
<line x1="627" y1="420.4" x2="631" y2="420.4" stroke="#555" stroke-width="0.8"/>
<text x="632.7" y="423.7" font-size="9.9" fill="#222" textLength="20.3" lengthAdjust="spacingAndGlyphs" text-anchor="start">-0.22</text>
<line x1="627" y1="442.5" x2="631" y2="442.5" stroke="#555" stroke-width="0.8"/>
<text x="632.7" y="445.8" font-size="9.9" fill="#222" textLength="20.3" lengthAdjust="spacingAndGlyphs" text-anchor="start">-1.62</text>
<line x1="627" y1="473.2" x2="631" y2="473.2" stroke="#555" stroke-width="0.8"/>
<text x="632.7" y="476.5" font-size="9.9" fill="#222" textLength="26.4" lengthAdjust="spacingAndGlyphs" text-anchor="start">103.61</text>
<line x1="627" y1="495.6" x2="631" y2="495.6" stroke="#555" stroke-width="0.8"/>
<text x="632.7" y="498.9" font-size="9.9" fill="#222" textLength="21.8" lengthAdjust="spacingAndGlyphs" text-anchor="start">66.53</text>
<line x1="627" y1="518.1" x2="631" y2="518.1" stroke="#555" stroke-width="0.8"/>
<text x="632.7" y="521.4" font-size="9.9" fill="#222" textLength="21.8" lengthAdjust="spacingAndGlyphs" text-anchor="start">29.46</text>
<line x1="627" y1="540.5" x2="631" y2="540.5" stroke="#555" stroke-width="0.8"/>
<text x="632.7" y="543.8" font-size="9.9" fill="#222" textLength="20.3" lengthAdjust="spacingAndGlyphs" text-anchor="start">-7.62</text>
<line x1="627" y1="570.4" x2="631" y2="570.4" stroke="#555" stroke-width="0.8"/>
<text x="632.7" y="573.7" font-size="9.9" fill="#222" textLength="21.8" lengthAdjust="spacingAndGlyphs" text-anchor="start">80.39</text>
<line x1="627" y1="592.8" x2="631" y2="592.8" stroke="#555" stroke-width="0.8"/>
<text x="632.7" y="596.1" font-size="9.9" fill="#222" textLength="21.8" lengthAdjust="spacingAndGlyphs" text-anchor="start">53.35</text>
<line x1="627" y1="615.3" x2="631" y2="615.3" stroke="#555" stroke-width="0.8"/>
<text x="632.7" y="618.6" font-size="9.9" fill="#222" textLength="21.8" lengthAdjust="spacingAndGlyphs" text-anchor="start">26.31</text>
<line x1="627" y1="637.7" x2="631" y2="637.7" stroke="#555" stroke-width="0.8"/>
<text x="632.7" y="641.0" font-size="9.9" fill="#222" textLength="20.3" lengthAdjust="spacingAndGlyphs" text-anchor="start">-0.73</text>
<rect x="629" y="287" width="50" height="13.5" fill="#ee1100"/>
<line x1="629" y1="293.6" x2="632" y2="293.6" stroke="#fff" stroke-width="1"/>
<text x="633.2" y="297.0" font-size="9.4" fill="#fff" textLength="26.7" lengthAdjust="spacingAndGlyphs" text-anchor="start">136.90</text>
<line x1="133.5" y1="645.5" x2="133.5" y2="647.5" stroke="#444" stroke-width="1"/>
<text x="128.4" y="656.8" font-size="9.8" fill="#222" textLength="18.2" lengthAdjust="spacingAndGlyphs" text-anchor="start">10月</text>
<line x1="322.5" y1="645.5" x2="322.5" y2="647.5" stroke="#444" stroke-width="1"/>
<text x="317.4" y="656.8" font-size="9.8" fill="#222" textLength="18.2" lengthAdjust="spacingAndGlyphs" text-anchor="start">11月</text>
<line x1="529.5" y1="645.5" x2="529.5" y2="647.5" stroke="#444" stroke-width="1"/>
<text x="524.4" y="656.8" font-size="9.8" fill="#222" textLength="18.2" lengthAdjust="spacingAndGlyphs" text-anchor="start">12月</text>
</svg>
</body></html>
